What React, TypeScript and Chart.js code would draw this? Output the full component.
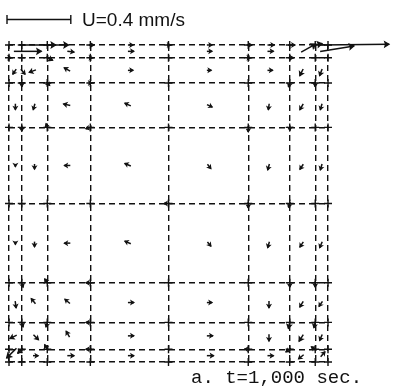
import React, { useEffect, useRef } from "react";
import { Chart, registerables } from "chart.js";
Chart.register(...registerables);

// Mesh lines (domain units, 0..100 across the basin)
const gridX = [0, 4, 12, 25.5, 50, 75, 88, 96, 100];
const gridY = [0, 4, 12.5, 25, 50, 74, 88, 96, 100];

// Reference vector
const refSpeed = 0.4; // mm/s
const unitsPerMmS = 50; // arrow length (domain units) per 1 mm/s
const scaleLabel = "U=0.4 mm/s";
const caption = "a. t=1,000 sec.";

// Velocity vectors: node position (domain units) and components (mm/s, v positive upward)
const vecX = [
  4, 12, 25.5, 37.75, 50, 62.5, 75, 81.5, 88, 96, 98,
  2, 18.75, 37.75, 62.5, 81.5, 92, 98,
  0, 12, 25.5, 75, 88,
  2, 4, 8, 18.75, 37.75, 62.5, 81.5, 92, 98,
  4, 12, 25.5, 88, 96,
  2, 8, 18.75, 37.75, 62.5, 81.5, 92, 98,
  4, 12, 25.5, 75, 88,
  2, 8, 18.75, 37.75, 62.5, 81.5, 92, 98,
  50, 75, 88,
  2, 8, 18.75, 37.75, 62.5, 81.5, 92, 98,
  4, 12, 25.5, 88, 96,
  2, 8, 18.75, 37.75, 62.5, 81.5, 92, 98,
  4, 12, 25.5, 88, 96,
  2, 8, 18.75, 37.75, 62.5, 81.5, 92, 98,
  2, 4, 12, 25.5, 75, 88, 96,
  8, 18.75, 37.75, 62.5, 81.5, 92, 98,
];
const vecY = [
  100, 100, 100, 100, 100, 100, 100, 100, 100, 100, 100,
  98, 98, 98, 98, 98, 98, 98,
  96, 96, 96, 96, 96,
  92, 92, 92, 92, 92, 92, 92, 92, 92,
  88, 88, 88, 88, 88,
  81, 81, 81, 81, 81, 81, 81, 81,
  74, 74, 74, 74, 74,
  62, 62, 62, 62, 62, 62, 62, 62,
  50, 50, 50,
  37.5, 37.5, 37.5, 37.5, 37.5, 37.5, 37.5, 37.5,
  25, 25, 25, 25, 25,
  18.75, 18.75, 18.75, 18.75, 18.75, 18.75, 18.75, 18.75,
  12.5, 12.5, 12.5, 12.5, 12.5,
  8.25, 8.25, 8.25, 8.25, 8.25, 8.25, 8.25, 8.25,
  4, 4, 4, 4, 4, 4, 4,
  2, 2, 2, 2, 2, 2, 2,
];
const vecU = [
  0.22, 0.14, 0.03, 0.03, 0.02, 0.03, 0.03, 0.04, 0.04, 0.05, 0.43,
  0.17, 0.04, 0.035, 0.03, 0.035, 0.09, 0.21,
  0.02, 0.04, 0.02, 0.02, 0.03,
  -0.02, 0.025, -0.04, -0.035, 0.03, 0.025, 0.03, -0.02, -0.015,
  0, 0.02, 0.015, -0.01, 0,
  0, -0.01, -0.04, -0.035, 0.03, -0.005, -0.02, -0.01,
  0, -0.01, -0.035, 0, 0,
  0, 0, -0.035, -0.035, 0.02, -0.01, -0.02, -0.01,
  -0.035, 0, -0.01,
  0, 0, -0.035, -0.035, 0.02, -0.01, -0.02, -0.015,
  0.01, -0.02, -0.035, 0, 0,
  0.005, -0.025, -0.03, 0.035, 0.03, 0, -0.02, -0.02,
  0.01, -0.01, -0.035, -0.01, -0.01,
  -0.04, 0.03, -0.02, 0.035, 0.035, 0, -0.025, -0.015,
  -0.06, -0.03, -0.02, -0.035, -0.03, -0.03, -0.03,
  0.03, 0.04, 0.035, 0.04, 0.035, -0.03, 0.025,
];
const vecV = [
  0, 0, 0, 0, 0, 0, 0, 0, 0, 0.01, 0.005,
  0, -0.005, 0, 0, 0, 0.05, 0.035,
  0, -0.02, 0, 0, 0,
  -0.03, -0.03, -0.015, 0.02, 0, 0, 0, -0.04, -0.04,
  -0.03, -0.02, 0, -0.03, -0.03,
  -0.035, -0.035, 0.01, 0.015, -0.015, -0.035, -0.035, -0.035,
  -0.03, 0.03, -0.01, -0.035, -0.025,
  -0.015, -0.03, 0, 0.015, -0.025, -0.035, -0.03, -0.035,
  0, -0.035, -0.03,
  -0.015, -0.03, 0, 0.015, -0.025, -0.035, -0.03, -0.035,
  -0.035, 0.03, 0, -0.035, -0.035,
  -0.04, 0.03, 0.025, 0, 0, -0.04, -0.035, -0.03,
  -0.035, -0.035, 0, -0.045, -0.04,
  -0.02, -0.03, 0.035, 0, 0, -0.04, -0.04, -0.035,
  -0.06, -0.03, 0.035, 0, 0, -0.02, 0.02,
  0, 0, 0, 0, 0, -0.025, 0.03,
];

const INK = "#111111";

function drawArrow(ctx: CanvasRenderingContext2D, x1: number, y1: number, x2: number, y2: number) {
  const dx = x2 - x1;
  const dy = y2 - y1;
  const len = Math.hypot(dx, dy);
  if (len < 0.5) return;
  const ux = dx / len;
  const uy = dy / len;
  const hl = Math.min(6.5, Math.max(5, len * 0.8));
  const hw = hl * 0.6;
  const bx = x2 - ux * hl;
  const by = y2 - uy * hl;
  ctx.beginPath();
  ctx.moveTo(x1 - ux * 1.5, y1 - uy * 1.5);
  ctx.lineTo(x2 - ux * 1, y2 - uy * 1);
  ctx.stroke();
  ctx.beginPath();
  ctx.moveTo(x2, y2);
  ctx.lineTo(bx - uy * hw, by + ux * hw);
  ctx.lineTo(bx + ux * 1.2, by + uy * 1.2);
  ctx.lineTo(bx + uy * hw, by - ux * hw);
  ctx.closePath();
  ctx.fill();
}

const vectorPlugin = {
  id: "vectors",
  afterDatasetsDraw(chart: any) {
    const { ctx } = chart;
    const xs = chart.scales.x;
    const ys = chart.scales.y;
    ctx.save();
    ctx.strokeStyle = INK;
    ctx.fillStyle = INK;
    // solid crosses at mesh intersections
    ctx.lineWidth = 1.4;
    for (const gx of gridX) {
      for (const gy of gridY) {
        const px = xs.getPixelForValue(gx);
        const py = ys.getPixelForValue(gy);
        ctx.beginPath();
        ctx.moveTo(px - 4, py);
        ctx.lineTo(px + 4, py);
        ctx.moveTo(px, py - 4);
        ctx.lineTo(px, py + 4);
        ctx.stroke();
      }
    }
    // velocity arrows
    ctx.lineWidth = 1.5;
    for (let i = 0; i < vecX.length; i++) {
      const x1 = xs.getPixelForValue(vecX[i]);
      const y1 = ys.getPixelForValue(vecY[i]);
      const x2 = xs.getPixelForValue(vecX[i] + vecU[i] * unitsPerMmS);
      const y2 = ys.getPixelForValue(vecY[i] + vecV[i] * unitsPerMmS);
      drawArrow(ctx, x1, y1, x2, y2);
    }
    // reference scale bar
    const barLen = xs.getPixelForValue(refSpeed * unitsPerMmS) - xs.getPixelForValue(0);
    const bx0 = 7;
    const by0 = 19.5;
    ctx.lineWidth = 1.4;
    ctx.beginPath();
    ctx.moveTo(bx0, by0);
    ctx.lineTo(bx0 + barLen, by0);
    ctx.moveTo(bx0, by0 - 4.5);
    ctx.lineTo(bx0, by0 + 4.5);
    ctx.moveTo(bx0 + barLen, by0 - 4.5);
    ctx.lineTo(bx0 + barLen, by0 + 4.5);
    ctx.stroke();
    ctx.font = "19px 'Liberation Sans', Arial, sans-serif";
    ctx.textBaseline = "alphabetic";
    ctx.textAlign = "left";
    ctx.fillText(scaleLabel, 82, 26);
    // caption
    ctx.font = "19px 'Liberation Mono', 'DejaVu Sans Mono', monospace";
    ctx.fillText(caption, 191, 383);
    ctx.restore();
  },
};

export default function App() {
  const ref = useRef<HTMLCanvasElement | null>(null);
  useEffect(() => {
    if (!ref.current) return;
    const chart = new Chart(ref.current, {
      type: "scatter",
      data: {
        datasets: [
          {
            data: vecX.map((x, i) => ({ x, y: vecY[i] })),
            pointRadius: 0,
            pointHoverRadius: 0,
          },
        ],
      },
      options: {
        animation: false,
        responsive: false,
        devicePixelRatio: 1,
        events: [],
        layout: { padding: { left: 9, top: 45, right: 65, bottom: 26 } },
        plugins: { legend: { display: false }, tooltip: { enabled: false } },
        scales: {
          x: {
            type: "linear",
            min: 0,
            max: 100,
            afterBuildTicks: (scale: any) => {
              scale.ticks = gridX.map((v) => ({ value: v }));
            },
            ticks: { display: false },
            grid: { color: INK, lineWidth: 1.4, drawTicks: false },
            border: { display: false, dash: [6, 4] },
          },
          y: {
            type: "linear",
            min: 0,
            max: 100,
            afterBuildTicks: (scale: any) => {
              scale.ticks = gridY.map((v) => ({ value: v }));
            },
            ticks: { display: false },
            grid: { color: INK, lineWidth: 1.4, drawTicks: false },
            border: { display: false, dash: [6, 4] },
          },
        },
      },
      plugins: [vectorPlugin],
    });
    return () => chart.destroy();
  }, []);
  return (
    <div style={{ position: "absolute", left: 0, top: 0, width: 393, height: 388, background: "#fff" }}>
      <canvas ref={ref} width={393} height={388} style={{ display: "block" }} />
    </div>
  );
}
